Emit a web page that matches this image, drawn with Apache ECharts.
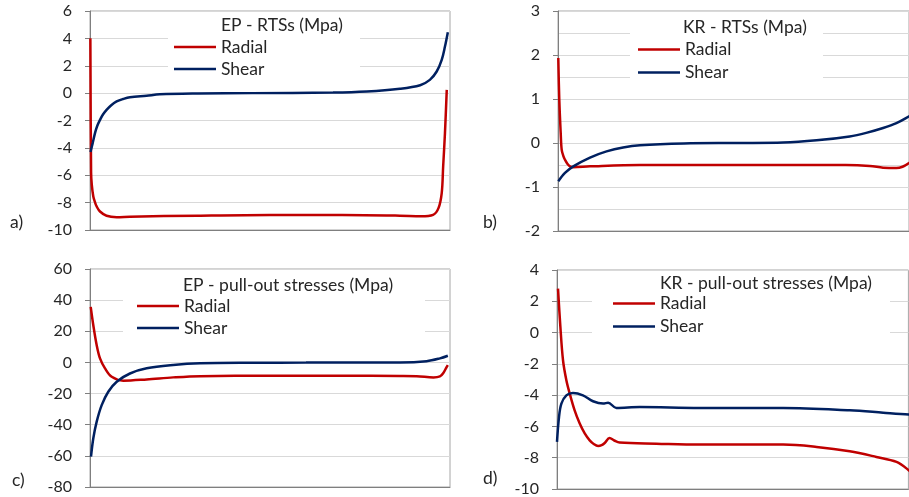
<!DOCTYPE html>
<html>
<head>
<meta charset="utf-8">
<script src="https://cdn.jsdelivr.net/npm/echarts@6/dist/echarts.min.js"></script>
<style>
  html, body { margin: 0; padding: 0; background: #fff; }
  #chart { width: 909px; height: 497px; }
</style>
</head>
<body>
<div id="chart"></div>
<script>
// Position along the fibre (0..100 % of the embedded length) and stress in MPa.

// a) EP - RTSs
const epRtsRadialX = [0.1, 0.3, 0.5, 0.92, 1.4, 1.85, 2.78, 4.6, 7.4, 11.1, 30, 50, 70, 86.1, 92, 95.3, 96.8, 97.7, 98.1, 98.6, 99.1];
const epRtsRadialY = [4.0, -5.8, -6.7, -7.55, -7.98, -8.28, -8.65, -8.96, -9.06, -9.03, -8.95, -8.9, -8.9, -8.95, -9.0, -8.89, -8.4, -7.3, -5.36, -2.92, 0.24];
const epRtsShearX = [0.14, 0.75, 1.39, 2.0, 2.78, 3.6, 4.6, 5.9, 7.4, 9.2, 11.1, 15.7, 19.4, 30, 45, 67.5, 76.9, 86.1, 91.7, 94.4, 96.3, 97.7, 98.6, 99.4];
const epRtsShearY = [-4.3, -3.65, -2.92, -2.4, -1.95, -1.56, -1.22, -0.88, -0.61, -0.43, -0.3, -0.19, -0.09, -0.03, 0, 0.04, 0.12, 0.32, 0.58, 0.97, 1.58, 2.43, 3.4, 4.45];

// b) KR - RTSs (the plot runs past the right edge of the page)
const krRtsRadialX = [0.08, 0.36, 0.75, 1.02, 1.5, 1.94, 2.6, 3.33, 4.25, 8.9, 22.8, 50, 80, 86.7, 90.4, 94.1, 95.8, 97.5, 100];
const krRtsRadialY = [1.93, 0.98, 0.23, -0.15, -0.3, -0.38, -0.47, -0.53, -0.55, -0.53, -0.5, -0.5, -0.5, -0.52, -0.56, -0.57, -0.54, -0.46, -0.3];
const krRtsShearX = [0.08, 1.94, 4.25, 8.9, 13.5, 18.1, 22.8, 35, 50, 62.6, 71.9, 81.1, 85.7, 90.4, 94.1, 97.5, 100];
const krRtsShearY = [-0.87, -0.68, -0.53, -0.33, -0.19, -0.1, -0.05, -0.01, 0, 0.01, 0.06, 0.15, 0.23, 0.34, 0.45, 0.6, 0.72];

// c) EP - pull-out stresses
const epPullRadialX = [0.2, 0.92, 1.86, 2.78, 4.17, 6.03, 9.25, 15.75, 23.1, 30.6, 50, 70, 86, 90.75, 95.4, 97.2, 98.1, 99.1, 99.4];
const epPullRadialY = [35.7, 23.9, 11.1, 2.6, -3.8, -9.2, -11.7, -10.9, -9.6, -8.8, -8.6, -8.6, -8.7, -8.8, -9.6, -9.0, -7.0, -2.8, -1.7];
const epPullShearX = [0.28, 0.92, 1.86, 3.25, 5.08, 7.42, 11.1, 15.75, 23.1, 30.6, 45, 60, 75, 86.1, 93.5, 97.2, 99.4];
const epPullShearY = [-60.5, -48.7, -38, -27.4, -18.8, -12.4, -7.1, -3.8, -1.7, -0.6, -0.2, -0.1, 0, 0, 0.8, 2.6, 4.3];

// d) KR - pull-out stresses (the plot runs past the right edge of the page)
const krPullRadialX = [0.28, 0.94, 1.67, 2.6, 3.53, 4.9, 6.31, 7.7, 9.08, 10.3, 11.4, 12.4, 13.25, 14.6, 15.9, 17.4, 27.6, 39.6, 62.8, 72.1, 81.3, 88.7, 94.3, 97.7, 100];
const krPullRadialY = [2.81, 0.36, -1.77, -3.05, -3.9, -4.98, -5.82, -6.45, -6.89, -7.14, -7.25, -7.2, -7.06, -6.74, -6.9, -7.03, -7.1, -7.16, -7.16, -7.31, -7.59, -7.95, -8.27, -8.8, -9.3];
const krPullShearX = [0, 0.56, 1.22, 2.6, 4.44, 7.2, 10, 12.8, 14.2, 16.5, 23, 39.6, 62.8, 81.3, 90.6, 97.7, 100];
const krPullShearY = [-6.99, -5.4, -4.54, -4.01, -3.86, -4.01, -4.39, -4.54, -4.48, -4.82, -4.76, -4.82, -4.82, -4.97, -5.12, -5.24, -5.3];

// Panel headings and axis ranges
const panelTitles = ['EP - RTSs (Mpa)', 'KR - RTSs (Mpa)', 'EP - pull-out stresses (Mpa)', 'KR - pull-out stresses (Mpa)'];
const panelTags = ['a)', 'b)', 'c)', 'd)'];
const yRanges = [
  { min: -10, max: 6, interval: 2 },
  { min: -2, max: 3, interval: 1, minor: true },
  { min: -80, max: 60, interval: 20 },
  { min: -10, max: 4, interval: 2 }
];
// visible part of the x range in each panel
const xMax = [100, 97.6, 100, 97.6];
const seriesNames = ['Radial', 'Shear'];

const FONT = 'Lato, "Open Sans", sans-serif';
const TEXT = '#262626';
const AXIS = '#7f7f7f';
const GRIDLINE = '#d9d9d9';
const RED = '#c00000';
const NAVY = '#002060';

const zip = (xs, ys) => xs.map((x, i) => [x, ys[i]]);

const grids = [
  { left: 90, top: 11, width: 360, height: 219 },
  { left: 558, top: 11, width: 351.4, height: 220 },
  { left: 90, top: 269, width: 360, height: 218 },
  { left: 557, top: 270, width: 351.4, height: 219 }
].map(g => Object.assign({ show: true, borderColor: '#a6a6a6', borderWidth: 1, backgroundColor: 'transparent' }, g));

const xAxes = grids.map((g, i) => ({
  type: 'value', gridIndex: i, min: 0, max: xMax[i],
  axisLine: { show: true, onZero: false, lineStyle: { color: AXIS, width: 1 } },
  axisTick: { show: false }, axisLabel: { show: false }, splitLine: { show: false }
}));

const yAxes = yRanges.map((r, i) => ({
  type: 'value', gridIndex: i, min: r.min, max: r.max, interval: r.interval,
  axisLine: { show: true, onZero: false, lineStyle: { color: AXIS, width: 1 } },
  axisTick: { show: true, length: 5, lineStyle: { color: AXIS } },
  axisLabel: { margin: 18, fontSize: 16, color: TEXT, fontFamily: FONT },
  splitLine: { show: true, lineStyle: { color: GRIDLINE, width: 1 } },
  minorTick: { show: false, splitNumber: 2 },
  minorSplitLine: { show: !!r.minor, lineStyle: { color: GRIDLINE, width: 1 } }
}));

const panelData = [
  [zip(epRtsRadialX, epRtsRadialY), zip(epRtsShearX, epRtsShearY)],
  [zip(krRtsRadialX, krRtsRadialY), zip(krRtsShearX, krRtsShearY)],
  [zip(epPullRadialX, epPullRadialY), zip(epPullShearX, epPullShearY)],
  [zip(krPullRadialX, krPullRadialY), zip(krPullShearX, krPullShearY)]
];

const series = [];
panelData.forEach((pair, i) => {
  pair.forEach((data, k) => {
    series.push({
      type: 'line', name: seriesNames[k], xAxisIndex: i, yAxisIndex: i,
      data, symbol: 'none', showSymbol: false, smooth: 0.35,
      lineStyle: { color: k === 0 ? RED : NAVY, width: 2.5 },
      itemStyle: { color: k === 0 ? RED : NAVY },
      z: 2
    });
  });
});

// Title positions, legend positions and the white boxes behind them
const titlePos = [[221, 16], [683, 18], [183, 276], [660, 274]];
const legendPos = [[174, 36, 22], [638, 38, 23], [137, 295, 22], [613, 292, 23]];
const boxes = [[168, 14, 192, 66], [630, 14, 193, 74], [123, 273, 302, 72], [592, 273, 298, 72]];
const tagPos = [[10, 213], [483, 213], [12, 471], [483, 469]];

const titles = panelTitles.map((t, i) => ({
  text: t, left: titlePos[i][0], top: titlePos[i][1], padding: 0,
  textStyle: { fontSize: 17.5, fontWeight: 'normal', color: TEXT, fontFamily: FONT }
})).concat(panelTags.map((t, i) => ({
  text: t, left: tagPos[i][0], top: tagPos[i][1], padding: 0,
  textStyle: { fontSize: 17.5, fontWeight: 'normal', color: TEXT, fontFamily: FONT }
})));

const legends = legendPos.map(p => ({
  left: p[0], top: p[1], orient: 'vertical', padding: 0, itemGap: 0,
  icon: 'rect', itemWidth: 42, itemHeight: 2.5, selectedMode: false,
  data: seriesNames,
  textStyle: { fontSize: 17.5, lineHeight: p[2], color: TEXT, fontFamily: FONT }
}));

const graphic = boxes.map(b => ({
  type: 'rect', z: 3, silent: true,
  shape: { x: b[0], y: b[1], width: b[2], height: b[3] },
  style: { fill: '#ffffff' }
}));

const chart = echarts.init(document.getElementById('chart'), null, { renderer: 'canvas' });
chart.setOption({
  animation: false,
  backgroundColor: '#ffffff',
  title: titles,
  legend: legends,
  grid: grids,
  xAxis: xAxes,
  yAxis: yAxes,
  graphic,
  series
});
</script>
</body>
</html>
